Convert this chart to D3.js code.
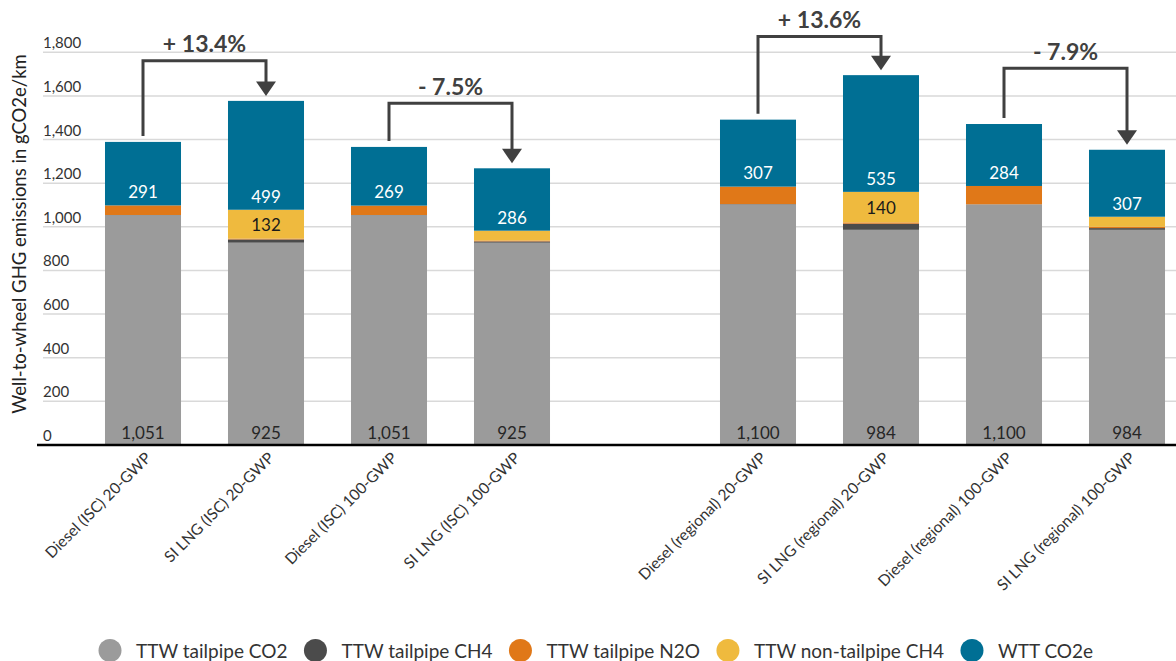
<!DOCTYPE html>
<html>
<head>
<meta charset="utf-8">
<script src="https://cdn.jsdelivr.net/npm/d3@7"></script>
<style>
  html, body { margin: 0; padding: 0; background: #ffffff; }
  svg { display: block; font-family: Lato, "Noto Sans", sans-serif; }
</style>
</head>
<body>
<svg id="chart" width="1176" height="661"></svg>
<script>
// ---------- data ----------
const categories = [
  "Diesel (ISC) 20-GWP", "SI LNG (ISC) 20-GWP", "Diesel (ISC) 100-GWP", "SI LNG (ISC) 100-GWP",
  "Diesel (regional) 20-GWP", "SI LNG (regional) 20-GWP", "Diesel (regional) 100-GWP", "SI LNG (regional) 100-GWP"
];
const seriesNames = ["TTW tailpipe CO2", "TTW tailpipe CH4", "TTW tailpipe N2O", "TTW non-tailpipe CH4", "WTT CO2e"];
const ttwTailpipeCO2   = [1051, 925, 1051, 925, 1100, 984, 1100, 984];
const ttwTailpipeCH4   = [1, 15, 1, 6, 2, 28, 1, 8];
const ttwTailpipeN2O   = [44, 4, 43, 4, 80, 6, 84, 6];
const ttwNonTailpipeCH4 = [0, 132, 0, 45, 0, 140, 0, 46];
const wttCO2e          = [291, 499, 269, 286, 307, 535, 284, 307];
const seriesColors = ["#9b9b9b", "#4b4b4b", "#e07818", "#efba3e", "#006f94"];
const yTicks = [0, 200, 400, 600, 800, 1000, 1200, 1400, 1600, 1800];
const yTitle = "Well-to-wheel GHG emissions in gCO2e/km";
// comparisons: from bar index, to bar index, label, bracket level (in gCO2e/km)
const changeFrom  = [0, 2, 4, 6];
const changeTo    = [1, 3, 5, 7];
const changeLabel = ["+ 13.4%", "- 7.5%", "+ 13.6%", "- 7.9%"];
const changeLevel = [1759, 1564, 1870, 1725];

// ---------- build table ----------
const seriesArrays = [ttwTailpipeCO2, ttwTailpipeCH4, ttwTailpipeN2O, ttwNonTailpipeCH4, wttCO2e];
const table = categories.map((c, i) => {
  const row = { category: c };
  seriesNames.forEach((s, k) => row[s] = seriesArrays[k][i]);
  return row;
});
const stacked = d3.stack().keys(seriesNames)(table);
const totals = table.map(r => d3.sum(seriesNames, s => r[s]));

// ---------- layout ----------
const svg = d3.select("#chart");
const gap = "__gap__";
const domain = [...categories.slice(0, 4), gap, ...categories.slice(4)];
const x = d3.scaleBand().domain(domain).range([81.5, 1188.5]).paddingInner(0.382).paddingOuter(0.191);
const y = d3.scaleLinear().domain([0, 1800]).range([444.5, 51.8]);
const gridLeft = 43, gridRight = 1176;

// gridlines + tick labels
const yAxis = d3.axisRight(y).tickValues(yTicks).tickFormat(d3.format(",")).tickSize(gridRight - gridLeft);
const gAxis = svg.append("g").attr("transform", `translate(${gridLeft},0)`).call(yAxis);
gAxis.select(".domain").remove();
gAxis.selectAll(".tick line").attr("stroke", "#d9d9d9").attr("stroke-width", 1.5);
gAxis.selectAll(".tick text")
  .attr("x", 0).attr("dy", "-4").attr("text-anchor", "start")
  .attr("font-size", 15).attr("fill", "#333333").attr("font-family", "Lato, sans-serif");
gAxis.selectAll(".tick").filter(d => d === 0).select("line").remove();

// y title
svg.append("text")
  .attr("transform", `translate(26,${234}) rotate(-90)`)
  .attr("text-anchor", "middle")
  .attr("font-size", 18.5).attr("fill", "#222")
  .text(yTitle);

// bars
const layers = svg.append("g").selectAll("g").data(stacked).join("g")
  .attr("fill", (d, i) => seriesColors[i]);
layers.selectAll("rect").data(d => d).join("rect")
  .attr("x", d => x(d.data.category))
  .attr("width", x.bandwidth())
  .attr("y", d => y(d[1]))
  .attr("height", d => Math.max(0, y(d[0]) - y(d[1])));

// value labels
const fmt = d3.format(",");
const labels = svg.append("g").attr("text-anchor", "middle").attr("font-size", 17);
table.forEach((r, i) => {
  const cx = x(r.category) + x.bandwidth() / 2;
  labels.append("text").attr("x", cx).attr("y", y(0) - 6)
    .attr("fill", "#262626").text(fmt(r["TTW tailpipe CO2"]));
  const sNT = stacked[3][i];
  if (r["TTW non-tailpipe CH4"] > 100) {
    labels.append("text").attr("x", cx).attr("y", (y(sNT[0]) + y(sNT[1])) / 2 + 3)
      .attr("dominant-baseline", "middle").attr("fill", "#1a1a1a").text(fmt(r["TTW non-tailpipe CH4"]));
  }
  const sW = stacked[4][i];
  labels.append("text").attr("x", cx).attr("y", y(sW[0]) - 11.5)
    .attr("dominant-baseline", "middle").attr("fill", "#ffffff").text(fmt(r["WTT CO2e"]));
});

// baseline axis
svg.append("line").attr("x1", 37).attr("x2", 1176).attr("y1", y(0) + 0.5).attr("y2", y(0) + 0.5)
  .attr("stroke", "#000").attr("stroke-width", 2.5);

// x labels
const xl = svg.append("g").attr("font-size", 15.5).attr("fill", "#333");
categories.forEach(c => {
  const cx = x(c) + x.bandwidth() / 2;
  xl.append("text")
    .attr("transform", `translate(${cx + 9},${459}) rotate(-45)`)
    .attr("text-anchor", "end")
    .text(c);
});

// change arrows
const ac = "#404040";
const arrows = svg.append("g");
changeFrom.forEach((f, k) => {
  const t = changeTo[k];
  const x1 = x(categories[f]) + x.bandwidth() / 2;
  const x2 = x(categories[t]) + x.bandwidth() / 2;
  const yl = y(changeLevel[k]);
  const yStart = y(totals[f]) - 6;
  const yTip = y(totals[t]) - 5;
  const headLen = 14.5, headW = 10;
  arrows.append("path")
    .attr("d", `M${x1},${yStart} V${yl} H${x2} V${yTip - headLen + 1}`)
    .attr("fill", "none").attr("stroke", ac).attr("stroke-width", 3);
  arrows.append("path")
    .attr("d", `M${x2 - headW},${yTip - headLen} L${x2 + headW},${yTip - headLen} L${x2},${yTip} Z`)
    .attr("fill", ac);
  arrows.append("text")
    .attr("x", (x1 + x2) / 2).attr("y", yl - 8.5)
    .attr("text-anchor", "middle").attr("font-size", 23).attr("font-weight", "bold")
    .attr("fill", ac).text(changeLabel[k]);
});

// legend
const legend = svg.append("g").attr("font-size", 19).attr("fill", "#333");
let lx = 110;
const ly = 650.5;
seriesNames.forEach((s, i) => {
  legend.append("circle").attr("cx", lx).attr("cy", ly).attr("r", 11.5).attr("fill", seriesColors[i]);
  const t = legend.append("text").attr("x", lx + 26).attr("y", ly).attr("dominant-baseline", "central").text(s);
  const w = t.node().getComputedTextLength();
  lx = lx + 26 + w + 28;
});
</script>
</body>
</html>
